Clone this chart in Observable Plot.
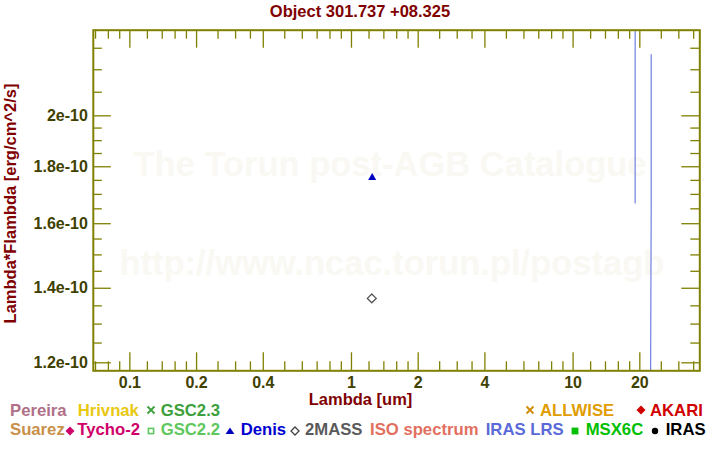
<!DOCTYPE html>
<html><head><meta charset="utf-8">
<script src="https://cdn.jsdelivr.net/npm/d3@7"></script>
<script src="https://cdn.jsdelivr.net/npm/@observablehq/plot@0.6"></script>
<style>
body{margin:0;background:#fff;font-family:"Liberation Sans",Arial,sans-serif;}
#wrap{position:relative;width:720px;height:450px;overflow:hidden;background:#fff;}
#title{position:absolute;left:0;top:0;width:720px;height:22px;line-height:22px;text-align:center;font-weight:bold;font-size:16.5px;color:#800000;}
#chart{position:absolute;left:0;top:24px;}
.lg{position:absolute;font-weight:bold;font-size:16.7px;white-space:nowrap;line-height:16px;}
.sym{position:absolute;overflow:visible;}
</style></head>
<body><div id="wrap"><div id="title"></div><div id="chart"></div><div id="legend"></div></div>
<script>
// ---- texts ----
const titleText = "Object 301.737 +08.325";
const xLabel = "Lambda [um]";
const yLabel = "Lambda*Flambda [erg/cm^2/s]";
const watermarkTop = ["The Torun post-AGB Catalogue"];
const watermarkBottom = ["http://www.ncac.torun.pl/postagb"];

// ---- ticks ----
const xMajorTicks = [0.1, 0.2, 0.4, 1, 2, 4, 10, 20];
const xTickLabels = ["0.1", "0.2", "0.4", "1", "2", "4", "10", "20"];
const xMinorTicks = [0.07, 0.08, 0.09, 0.12, 0.14, 0.16, 0.18, 0.25, 0.3, 0.35, 0.5, 0.6, 0.7, 0.8, 0.9,
  1.2, 1.4, 1.6, 1.8, 2.5, 3, 3.5, 5, 6, 7, 8, 9, 12, 14, 16, 18, 25, 30, 35];
const yMajorTicks = [1.2e-10, 1.4e-10, 1.6e-10, 1.8e-10, 2.0e-10];
const yTickLabels = ["1.2e-10", "1.4e-10", "1.6e-10", "1.8e-10", "2e-10"];
const yMinorTicks = [1.25e-10, 1.3e-10, 1.35e-10, 1.45e-10, 1.5e-10, 1.55e-10, 1.65e-10, 1.7e-10, 1.75e-10,
  1.85e-10, 1.9e-10, 1.95e-10, 2.1e-10, 2.2e-10, 2.3e-10];

// ---- data ----
const denisWave = [1.24];
const denisFlux = [1.76e-10];
const twomassWave = [1.235];
const twomassFlux = [1.371e-10];
const lrsWave = [19.05, 19.05, null, 22.5, 22.5, 22.3];
const lrsFlux = [3.0e-10, 1.670e-10, null, 2.27e-10, 1.633e-10, 0.9e-10];

// ---- legend ----
const legendRow1 = ["Pereira", "Hrivnak", "GSC2.3", "ALLWISE", "AKARI"];
const legendRow1Colors = ["#b07088", "#e8c810", "#3ca03c", "#e09c00", "#d00000"];
const legendRow1Symbols = [null, null, "cross", "cross", "diamond"];
const legendRow1SymColors = [null, null, "#3ca03c", "#d08a00", "#d00000"];
const legendRow2 = ["Suarez", "Tycho-2", "GSC2.2", "Denis", "2MASS", "ISO spectrum", "IRAS LRS", "MSX6C", "IRAS"];
const legendRow2Colors = ["#c8904a", "#d0006a", "#5ec85e", "#0000d0", "#5a5a5a", "#e27060", "#5a6ad8", "#00c000", "#000000"];
const legendRow2Symbols = [null, "diamond", "squareOpen", "triangle", "diamondOpen", null, null, "square", "circle"];
const legendRow2SymColors = [null, "#d0006a", "#5ec85e", "#0000c0", "#444444", null, null, "#00c000", "#000000"];

// layout (pixels)
const row1TextX = [10, 77.7, 160.7, 540, 650];
const row1SymX = [null, null, 151, 530, 640.5];
const row2TextX = [10, 77.3, 160.7, 240.7, 305, 370, 485.7, 585.7, 665.7];
const row2SymX = [null, 70, 150.5, 230.3, 295, null, null, 575.3, 655];
const row1Baseline = 416, row2Baseline = 435.5, row1SymY = 410.3, row2SymY = 430.5;

document.getElementById("title").textContent = titleText;

const olive = "#808000";
const W = 720, H = 426;
const mT = 5.7, mB = 79.7, mL = 92.8, mR = 20.7;
const frameH = H - mT - mB, frameW = W - mL - mR;

const denis = denisWave.map((w, i) => ({w, f: denisFlux[i]}));
const twomass = twomassWave.map((w, i) => ({w, f: twomassFlux[i]}));
const lrs = lrsWave.map((w, i) => ({w, f: lrsFlux[i]}));

const plot = Plot.plot({
  width: W, height: H,
  marginTop: mT, marginBottom: mB, marginLeft: mL, marginRight: mR,
  x: {type: "log", domain: [0.0684, 37.3]},
  y: {type: "log", domain: [1.1803e-10, 2.3875e-10]},
  style: {fontFamily: '"Liberation Sans", Arial, sans-serif', fontSize: "16px", fontWeight: "bold", background: "transparent", overflow: "visible"},
  marks: [
    Plot.text(watermarkTop, {text: d => d, frameAnchor: "middle", textAnchor: "middle", dx: -6.5, dy: -36, fontSize: 34.5, fontWeight: "bold", fill: "#f9f8f3"}),
    Plot.text(watermarkBottom, {text: d => d, frameAnchor: "middle", textAnchor: "middle", dx: -4.7, dy: 63.8, fontSize: 34.5, fontWeight: "bold", fill: "#f9f8f3"}),
    Plot.line(lrs, {x: "w", y: "f", stroke: "#5566dd", strokeWidth: 1, clip: true}),
    Plot.dot(twomass, {x: "w", y: "f", symbol: "diamond2", r: 4, stroke: "#555555", fill: "none", strokeWidth: 1.3}),
    Plot.dot(denis, {x: "w", y: "f", symbol: "triangle", r: 3, fill: "#0000c0", stroke: "none"}),
    Plot.ruleX(xMajorTicks, {x: d => d, stroke: olive, strokeWidth: 1.3, insetTop: frameH - 18}),
    Plot.ruleX(xMajorTicks, {x: d => d, stroke: olive, strokeWidth: 1.3, insetBottom: frameH - 18}),
    Plot.ruleX(xMinorTicks, {x: d => d, stroke: olive, strokeWidth: 1.3, insetTop: frameH - 9}),
    Plot.ruleX(xMinorTicks, {x: d => d, stroke: olive, strokeWidth: 1.3, insetBottom: frameH - 9}),
    Plot.ruleY(yMajorTicks, {y: d => d, stroke: olive, strokeWidth: 1.3, insetRight: frameW - 18}),
    Plot.ruleY(yMajorTicks, {y: d => d, stroke: olive, strokeWidth: 1.3, insetLeft: frameW - 18}),
    Plot.ruleY(yMinorTicks, {y: d => d, stroke: olive, strokeWidth: 1.3, insetRight: frameW - 9}),
    Plot.ruleY(yMinorTicks, {y: d => d, stroke: olive, strokeWidth: 1.3, insetLeft: frameW - 9}),
    Plot.frame({stroke: olive, strokeWidth: 2}),
    Plot.axisX({ticks: xMajorTicks, tickSize: 0, tickPadding: 6, label: null, fill: "#404000", fontSize: 16, fontWeight: "bold",
      tickFormat: d => xTickLabels[xMajorTicks.indexOf(d)]}),
    Plot.axisY({ticks: yMajorTicks, tickSize: 0, tickPadding: 5.5, label: null, fill: "#404000", fontSize: 16, fontWeight: "bold",
      tickFormat: d => yTickLabels[yMajorTicks.indexOf(d)]}),
    Plot.text([xLabel], {text: d => d, frameAnchor: "bottom", textAnchor: "middle", dx: -36, dy: 34, fill: "#800000", fontSize: 16.5, fontWeight: "bold"}),
    Plot.text([yLabel], {text: d => d, frameAnchor: "left", textAnchor: "middle", dx: -82.8, dy: 3, rotate: -90, fill: "#800000", fontSize: 16.5, fontWeight: "bold"})
  ]
});
document.getElementById("chart").appendChild(plot);

// legend
const legend = document.getElementById("legend");
const NS = "http://www.w3.org/2000/svg";
function addText(txt, x, baseline, color) {
  const s = document.createElement("div");
  s.className = "lg";
  s.textContent = txt;
  s.style.left = x + "px";
  s.style.top = (baseline - 13.3) + "px";
  s.style.color = color;
  legend.appendChild(s);
}
function addSym(type, cx, cy, color) {
  const svg = document.createElementNS(NS, "svg");
  svg.setAttribute("class", "sym");
  svg.setAttribute("width", 14); svg.setAttribute("height", 14);
  svg.setAttribute("viewBox", "-7 -7 14 14");
  svg.style.left = (cx - 7) + "px"; svg.style.top = (cy - 7) + "px";
  let el;
  if (type === "cross") {
    el = document.createElementNS(NS, "path");
    el.setAttribute("d", "M-3.5,-3.5L3.5,3.5M-3.5,3.5L3.5,-3.5");
    el.setAttribute("stroke", color); el.setAttribute("stroke-width", 1.8); el.setAttribute("fill", "none");
  } else if (type === "diamond") {
    el = document.createElementNS(NS, "path");
    el.setAttribute("d", "M0,-4.5L4.5,0L0,4.5L-4.5,0Z"); el.setAttribute("fill", color);
  } else if (type === "diamondOpen") {
    el = document.createElementNS(NS, "path");
    el.setAttribute("d", "M0,-4L4,0L0,4L-4,0Z"); el.setAttribute("fill", "none");
    el.setAttribute("stroke", color); el.setAttribute("stroke-width", 1.3);
  } else if (type === "squareOpen") {
    el = document.createElementNS(NS, "rect");
    el.setAttribute("x", -2.6); el.setAttribute("y", -2.6); el.setAttribute("width", 5.2); el.setAttribute("height", 5.2);
    el.setAttribute("fill", "none"); el.setAttribute("stroke", color); el.setAttribute("stroke-width", 1.6);
  } else if (type === "square") {
    el = document.createElementNS(NS, "rect");
    el.setAttribute("x", -3.4); el.setAttribute("y", -3.4); el.setAttribute("width", 6.8); el.setAttribute("height", 6.8);
    el.setAttribute("fill", color);
  } else if (type === "triangle") {
    el = document.createElementNS(NS, "path");
    el.setAttribute("d", "M0,-3.5L4.4,3L-4.4,3Z"); el.setAttribute("fill", color);
  } else if (type === "circle") {
    el = document.createElementNS(NS, "circle");
    el.setAttribute("r", 3.2); el.setAttribute("fill", color);
  }
  svg.appendChild(el);
  legend.appendChild(svg);
}
legendRow1.forEach((n, i) => {
  addText(n, row1TextX[i], row1Baseline, legendRow1Colors[i]);
  if (legendRow1Symbols[i]) addSym(legendRow1Symbols[i], row1SymX[i], row1SymY, legendRow1SymColors[i]);
});
legendRow2.forEach((n, i) => {
  addText(n, row2TextX[i], row2Baseline, legendRow2Colors[i]);
  if (legendRow2Symbols[i]) addSym(legendRow2Symbols[i], row2SymX[i], row2SymY, legendRow2SymColors[i]);
});
</script>
</body></html>
